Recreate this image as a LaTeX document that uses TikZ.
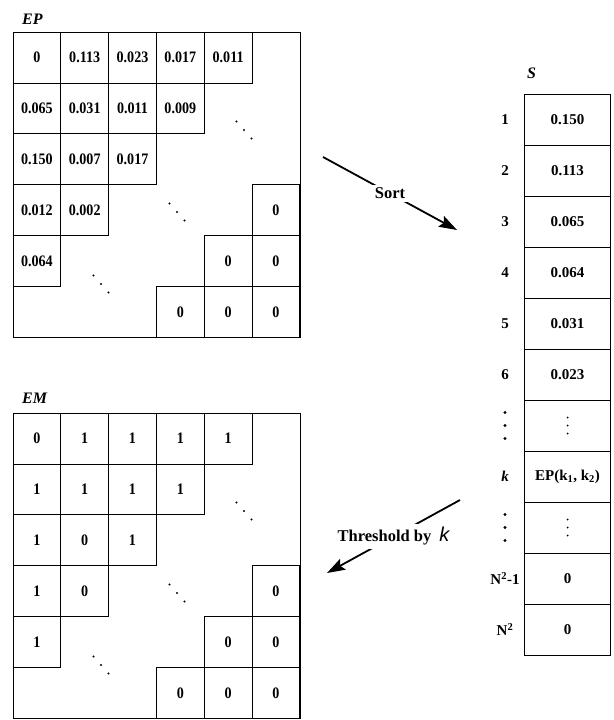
\documentclass[tikz,border=0pt]{standalone}
\usepackage{fontspec}
\setmainfont{Liberation Serif}
\newfontfamily\kfont{Liberation Sans}
\newfontfamily\cellfont[FakeStretch=0.88]{Liberation Serif}
\usetikzlibrary{positioning,arrows.meta}

\tikzset{
  cell/.style={draw, line width=0.8pt, minimum width=47.8pt, minimum height=50.9pt, inner sep=0pt, font=\cellfont\fontsize{16}{18}\selectfont\bfseries},
  frame/.style={draw, line width=0.8pt, minimum width=286.8pt, minimum height=305.4pt, inner sep=0pt, anchor=north west},
  slot/.style={cell, minimum width=86.4pt, minimum height=51pt, font=\fontsize{15}{17}\selectfont\bfseries},
  rowlbl/.style={font=\fontsize{15}{17}\selectfont\bfseries, inner sep=0pt},
  title/.style={font=\fontsize{16}{18}\selectfont\bfseries\itshape, inner sep=0pt, anchor=base west},
  bigarrow/.style={line width=1.8pt, -{Stealth[length=18pt,width=12pt,inset=3pt]}},
  arrlbl/.style={fill=white, inner sep=3pt, font=\fontsize{16.5}{18}\selectfont\bfseries},
}
% three dots running down to the right
\newcommand\dgdots[1]{\foreach \d in {-1,0,1} \fill ([shift={(\d*7.5,\d*8.5)}]#1) circle (1.1pt);}
% three dots running down, gap and size given
\newcommand\vdts[3]{\foreach \d in {-1,0,1} \fill ([yshift=\d*#2]#1) circle (#3);}

\begin{document}
\begin{tikzpicture}[x=1pt, y=-1pt]
    \useasboundingbox (0,0) rectangle (613,720);

    % matrix EP
    \node[frame] (EPbox) at (13,32) {};
    \node[title] (EPlbl) at ([xshift=9pt,yshift=8pt]EPbox.north west) {EP};
    \foreach \r/\c/\v in {0/0/0, 0/1/0.113, 0/2/0.023, 0/3/0.017, 0/4/0.011,
                          1/0/0.065, 1/1/0.031, 1/2/0.011, 1/3/0.009,
                          2/0/0.150, 2/1/0.007, 2/2/0.017,
                          3/0/0.012, 3/1/0.002, 3/5/0,
                          4/0/0.064, 4/4/0, 4/5/0,
                          5/3/0, 5/4/0, 5/5/0}
        \node[cell] (ep-\r-\c) at ({13+47.8*(\c+0.5)}, {32+50.9*(\r+0.5)}) {\v};
    \coordinate (epd1) at ([shift={(231,98)}]EPbox.north west);
    \coordinate (epd2) at ([shift={(164,180)}]EPbox.north west);
    \coordinate (epd3) at ([shift={(88,252)}]EPbox.north west);
    \dgdots{epd1} \dgdots{epd2} \dgdots{epd3}

    % matrix EM
    \node[frame] (EMbox) at (13,413) {};
    \node[title] (EMlbl) at ([xshift=9pt,yshift=10pt]EMbox.north west) {EM};
    \foreach \r/\c/\v in {0/0/0, 0/1/1, 0/2/1, 0/3/1, 0/4/1,
                          1/0/1, 1/1/1, 1/2/1, 1/3/1,
                          2/0/1, 2/1/0, 2/2/1,
                          3/0/1, 3/1/0, 3/5/0,
                          4/0/1, 4/4/0, 4/5/0,
                          5/3/0, 5/4/0, 5/5/0}
        \node[cell] (em-\r-\c) at ({13+47.8*(\c+0.5)}, {413+50.9*(\r+0.5)}) {\v};
    \coordinate (emd1) at ([shift={(231,98)}]EMbox.north west);
    \coordinate (emd2) at ([shift={(164,180)}]EMbox.north west);
    \coordinate (emd3) at ([shift={(88,252)}]EMbox.north west);
    \dgdots{emd1} \dgdots{emd2} \dgdots{emd3}

    % sorted list S
    \foreach \i/\v in {1/0.150, 2/0.113, 3/0.065, 4/0.064, 5/0.031, 6/0.023, 7/{},
                       8/{EP(k\textsubscript{1}, k\textsubscript{2})}, 9/{}, 10/0, 11/0}
        \node[slot] (s-\i) at (567.5, {94+51*(\i-0.5)}) {\v};
    \node[title] (Slbl) at ([xshift=3pt,yshift=15pt]s-1.north west) {S};
    \foreach \i/\t in {1/1, 2/2, 3/3, 4/4, 5/5, 6/6, 7/{}, 8/\textit{k}, 9/{},
                       10/N\textsuperscript{2}-1, 11/N\textsuperscript{2}}
        \node[rowlbl] (l-\i) at ([xshift=-62.5pt]s-\i.center) {\t};
    \vdts{s-7.center}{8pt}{1pt}
    \vdts{s-9.center}{8pt}{1pt}
    \vdts{l-7.center}{13pt}{1.6pt}
    \vdts{l-9.center}{13pt}{1.6pt}

    % arrows
    \coordinate (sortA) at (323,157);
    \coordinate (sortB) at (457,230);
    \coordinate (thrA) at (460,500);
    \coordinate (thrB) at (327,573);
    \draw[bigarrow] (sortA) -- node[arrlbl] {Sort} (sortB);
    \draw[bigarrow] (thrA) -- node[arrlbl] {Threshold by\hspace{8pt}{\kfont\mdseries\itshape\fontsize{20}{20}\selectfont k}} (thrB);
\end{tikzpicture}
\end{document}
